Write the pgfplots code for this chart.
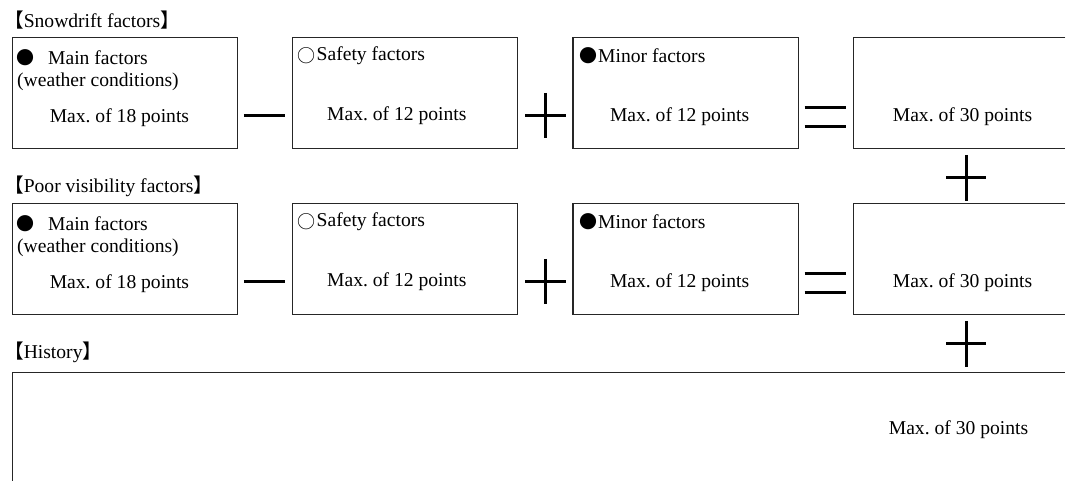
\documentclass[border=0pt]{standalone}
\usepackage{pgfplots}
\pgfplotsset{compat=1.18}
\usepackage{fontspec}
\setmainfont{Liberation Serif}
\newfontfamily\cjk{Noto Sans CJK JP}
\frenchspacing
\tikzset{
  txt/.style={inner sep=0pt, font=\frenchspacing\fontsize{19.6}{22}\selectfont},
  sym/.style={inner sep=0pt, font=\cjk\fontsize{18}{22}\selectfont},
  box/.style={black!85, line width=1.1pt},
  op/.style={black, line width=3pt}}
\begin{document}
\begin{tikzpicture}
\begin{axis}[scale only axis, width=1066pt, height=481pt,
  xmin=0, xmax=1066, ymin=0, ymax=481, y dir=reverse,
  hide axis, clip=false]
\addplot[draw=none] coordinates {(0,0) (1066,481)};
% ---------- row 1 boxes ----------
\addplot[box, mark=none] coordinates {(12.3,37.5)(237.7,37.5)(237.7,149)(12.3,149)(12.3,37.5)};
\addplot[box, mark=none] coordinates {(292.7,37.5)(517.7,37.5)(517.7,149)(292.7,149)(292.7,37.5)};
\addplot[box, mark=none] coordinates {(573.3,37.5)(798.7,37.5)(798.7,149)(573.3,149)(573.3,37.5)};
\addplot[box, mark=none] coordinates {(1066,37.5)(854.3,37.5)(854.3,149)(1066,149)};
% ---------- row 2 boxes ----------
\addplot[box, mark=none] coordinates {(12.3,203.5)(237.7,203.5)(237.7,315)(12.3,315)(12.3,203.5)};
\addplot[box, mark=none] coordinates {(292.7,203.5)(517.7,203.5)(517.7,315)(292.7,315)(292.7,203.5)};
\addplot[box, mark=none] coordinates {(573.3,203.5)(798.7,203.5)(798.7,315)(573.3,315)(573.3,203.5)};
\addplot[box, mark=none] coordinates {(1066,203.5)(854.3,203.5)(854.3,315)(1066,315)};
% ---------- history box ----------
\addplot[box, mark=none] coordinates {(12.3,481)(12.3,372.3)(1066,372.3)};
% ---------- operators row 1 ----------
\addplot[op, mark=none] coordinates {(244,116)(285,116)};
\addplot[op, mark=none] coordinates {(525.7,116)(566,116)};
\addplot[op, mark=none] coordinates {(545.7,93)(545.7,138)};
\addplot[op, mark=none] coordinates {(805,107.3)(846.7,107.3)};
\addplot[op, mark=none] coordinates {(805,126.7)(846.7,126.7)};
\addplot[op, mark=none] coordinates {(946.7,177.3)(986.7,177.3)};
\addplot[op, mark=none] coordinates {(966.7,155)(966.7,200.7)};
% ---------- operators row 2 ----------
\addplot[op, mark=none] coordinates {(244,282)(285,282)};
\addplot[op, mark=none] coordinates {(525.7,282)(566,282)};
\addplot[op, mark=none] coordinates {(545.7,259)(545.7,304)};
\addplot[op, mark=none] coordinates {(805,273.3)(846.7,273.3)};
\addplot[op, mark=none] coordinates {(805,292.7)(846.7,292.7)};
\addplot[op, mark=none] coordinates {(946.7,343.3)(986.7,343.3)};
\addplot[op, mark=none] coordinates {(966.7,321)(966.7,366.7)};
% ---------- titles ----------
\node[txt, anchor=west] at (axis cs:4,20) {{\cjk 【}Snowdrift factors{\cjk 】}};
\node[txt, anchor=west] at (axis cs:4,186) {{\cjk 【}Poor visibility factors{\cjk 】}};
\node[txt, anchor=west] at (axis cs:4,353) {{\cjk 【}History{\cjk 】}};
% ---------- row 1 texts ----------
\node[sym] at (axis cs:25.5,58) {●};
\node[txt, anchor=west] at (axis cs:48,58) {Main factors};
\node[txt, anchor=west] at (axis cs:17,82) {(weather conditions)};
\node[txt] at (axis cs:119.5,118) {Max. of 18 points};
\node[sym] at (axis cs:307,56) {○};
\node[txt, anchor=west] at (axis cs:316.7,56) {Safety factors};
\node[txt] at (axis cs:397,116) {Max. of 12 points};
\node[sym] at (axis cs:589,56) {●};
\node[txt, anchor=west] at (axis cs:598.3,56) {Minor factors};
\node[txt] at (axis cs:680,117) {Max. of 12 points};
\node[txt] at (axis cs:963,117) {Max. of 30 points};
% ---------- row 2 texts ----------
\node[sym] at (axis cs:25.5,224) {●};
\node[txt, anchor=west] at (axis cs:48,224) {Main factors};
\node[txt, anchor=west] at (axis cs:17,248) {(weather conditions)};
\node[txt] at (axis cs:119.5,284) {Max. of 18 points};
\node[sym] at (axis cs:307,222) {○};
\node[txt, anchor=west] at (axis cs:316.7,222) {Safety factors};
\node[txt] at (axis cs:397,282) {Max. of 12 points};
\node[sym] at (axis cs:589,222) {●};
\node[txt, anchor=west] at (axis cs:598.3,222) {Minor factors};
\node[txt] at (axis cs:680,283) {Max. of 12 points};
\node[txt] at (axis cs:963,283) {Max. of 30 points};
% ---------- history text ----------
\node[txt] at (axis cs:959,430) {Max. of 30 points};
\end{axis}
\end{tikzpicture}
\end{document}
